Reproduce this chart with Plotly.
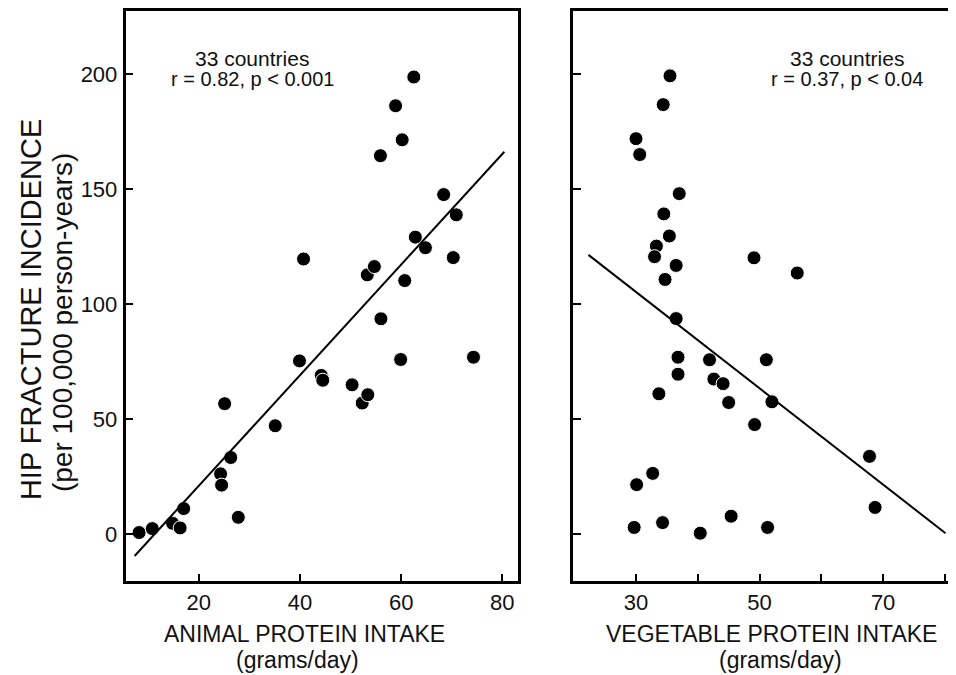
import plotly.graph_objects as go

# ---- data ----
animal_protein = [8.2, 10.8, 14.8, 16.3, 17.0, 24.3, 24.5, 25.1, 26.3, 27.8, 35.1,
                  39.9, 40.7, 44.2, 44.5, 50.3, 52.3, 53.4, 53.3, 54.7, 56.0, 55.9,
                  58.9, 60.2, 59.9, 62.5, 60.7, 62.8, 64.8, 68.4, 70.9, 70.3, 74.3]
hip_fx_animal = [0.8, 2.5, 4.8, 2.8, 11.2, 26.3, 21.4, 56.8, 33.4, 7.4, 47.2,
                 75.4, 119.7, 69.1, 67.0, 65.0, 57.1, 60.7, 112.8, 116.4, 93.7, 164.6,
                 186.3, 171.5, 76.0, 198.8, 110.3, 129.2, 124.6, 147.7, 138.9, 120.3, 77.0]

vegetable_protein = [35.5, 34.4, 30.0, 30.6, 37.0, 34.5, 35.4, 33.3, 33.0, 36.5, 34.7,
                     49.1, 56.1, 36.5, 36.8, 41.9, 51.1, 36.8, 42.6, 44.1, 33.7, 45.0,
                     52.0, 49.2, 67.8, 32.7, 30.1, 68.7, 45.4, 29.7, 34.3, 40.4, 51.3]
hip_fx_vegetable = [199.3, 186.8, 172.0, 165.1, 148.1, 139.3, 129.7, 125.3, 120.7, 116.9, 110.8,
                    120.2, 113.6, 93.8, 77.0, 75.9, 75.9, 69.6, 67.5, 65.5, 61.1, 57.3,
                    57.6, 47.7, 33.9, 26.5, 21.6, 11.7, 7.9, 3.0, 5.1, 0.5, 3.0]

fit_animal_x = [7.3, 80.4]
fit_animal_y = [-9.4, 166.3]
fit_veg_x = [22.3, 80.1]
fit_veg_y = [121.5, 0.5]

y_ticks = [0, 50, 100, 150, 200]
left_x_ticks = [20, 40, 60, 80]
right_x_ticks = [30, 40, 50, 60, 70, 80]
right_x_ticktext = ["30", "", "50", "", "70", ""]

ann_left = ["33 countries", "r = 0.82, p < 0.001"]
ann_right = ["33 countries", "r = 0.37, p < 0.04"]
x_title_left = ["ANIMAL PROTEIN INTAKE", "(grams/day)"]
x_title_right = ["VEGETABLE PROTEIN INTAKE", "(grams/day)"]
y_title = ["HIP FRACTURE INCIDENCE", "(per 100,000 person-years)"]

# ---- figure ----
# The page body has an 8px margin, so the figure starts at (8, 8) in the window.
OFF = 8
W, H = 956 - OFF, 675 - OFF
FONT = "Liberation Sans, Arial, Helvetica, sans-serif"
INK = "#111"


def px(x):
    return (x - OFF) / W


def py(y):
    return 1 - (y - OFF) / H


fig = go.Figure()
marker = dict(color="black", size=14, line=dict(color="white", width=1))
fig.add_trace(go.Scatter(x=animal_protein, y=hip_fx_animal, mode="markers",
                         marker=marker, xaxis="x", yaxis="y"))
fig.add_trace(go.Scatter(x=fit_animal_x, y=fit_animal_y, mode="lines",
                         line=dict(color="black", width=2), xaxis="x", yaxis="y"))
fig.add_trace(go.Scatter(x=vegetable_protein, y=hip_fx_vegetable, mode="markers",
                         marker=marker, xaxis="x2", yaxis="y2"))
fig.add_trace(go.Scatter(x=fit_veg_x, y=fit_veg_y, mode="lines",
                         line=dict(color="black", width=2), xaxis="x2", yaxis="y2"))

axis_common = dict(showgrid=False, zeroline=False, showline=True, linecolor="black",
                   linewidth=2.5, ticks="inside", ticklen=8, tickwidth=1.5,
                   tickcolor="black", tickfont=dict(family=FONT, size=22, color=INK))

ydom = [py(581), py(9)]
fig.update_layout(
    width=W, height=H, margin=dict(l=0, r=0, t=0, b=0),
    paper_bgcolor="white", plot_bgcolor="white", showlegend=False,
    font=dict(family=FONT, color=INK),
    xaxis=dict(domain=[px(125.5), px(517.5)], range=[5.5, 83.0],
               tickvals=left_x_ticks, mirror=True, ticklabelstandoff=0, **axis_common),
    yaxis=dict(domain=ydom, range=[-20.4, 227.5], tickvals=y_ticks, mirror=True,
               ticklabelstandoff=1, **axis_common),
    xaxis2=dict(domain=[px(573), 1.0], range=[19.8, 81.8], tickvals=right_x_ticks,
                ticktext=right_x_ticktext, mirror=True, anchor="y2",
                ticklabelstandoff=0, **axis_common),
    yaxis2=dict(domain=ydom, range=[-20.4, 227.5], tickvals=y_ticks, anchor="x2",
                showticklabels=False, mirror=False, **axis_common),
)


def text(x, y, s, size, angle=0):
    fig.add_annotation(x=px(x), y=py(y), xref="paper", yref="paper", text=s,
                       showarrow=False, textangle=angle, xanchor="center",
                       yanchor="middle", font=dict(family=FONT, size=size, color=INK))


text(252, 57, ann_left[0], 21)
text(252, 77, ann_left[1], 20)
text(847, 57, ann_right[0], 21)
text(847, 77, ann_right[1], 20)

text(304, 634, x_title_left[0], 23)
text(297, 660, x_title_left[1], 23)
text(771, 634, x_title_right[0], 23)
text(780, 660, x_title_right[1], 23)

text(31, 309, y_title[0], 29, -90)
text(62, 322, y_title[1], 28, -90)

fig.write_html("out.html")
